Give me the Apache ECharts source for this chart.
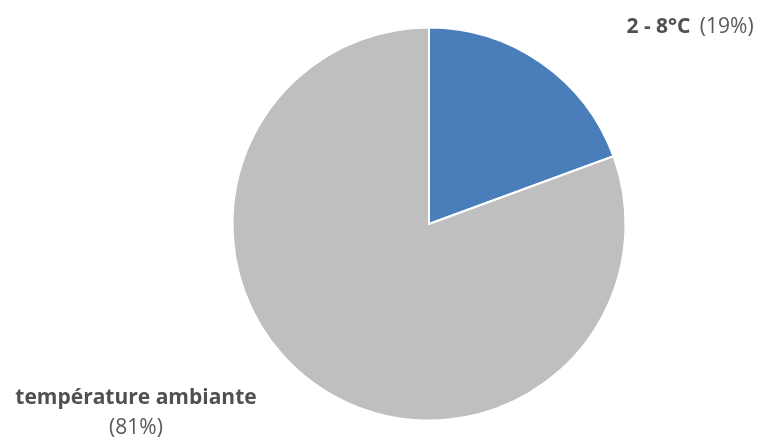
<!DOCTYPE html>
<html>
<head>
<meta charset="utf-8">
<script src="https://cdn.jsdelivr.net/npm/echarts@6/dist/echarts.min.js"></script>
<style>
  html, body { margin: 0; padding: 0; background: #fff; }
  #main { width: 772px; height: 444px; }
</style>
</head>
<body>
<div id="main"></div>
<script>
  var categories = ['2 - 8°C', 'température ambiante'];
  var values = [19.4, 80.6];
  var colors = ['#4a7ebb', '#bfbfbf'];

  var chart = echarts.init(document.getElementById('main'));

  // label anchor points (where the text sits on the page)
  var labelPos = [
    { x: 690, y: 27, align: 'center' },
    { x: 136, y: 413, align: 'center' }
  ];

  var option = {
    animation: false,
    series: [{
      type: 'pie',
      center: [429, 224],
      radius: 196.5,
      startAngle: 90,
      clockwise: true,
      itemStyle: { borderColor: '#fff', borderWidth: 2 },
      labelLine: { show: false },
      label: {
        show: true,
        position: 'outside',
        fontFamily: 'Open Sans',
        color: '#595959',
        formatter: function (p) {
          var pct = Math.round(p.percent) + '%';
          if (p.dataIndex === 0) return '{b|' + p.name + '}   {n|(' + pct + ')}';
          return '{b|' + p.name + '}\n{n|(' + pct + ')}';
        },
        rich: {
          b: { fontFamily: 'Open Sans', fontWeight: 'bold', fontSize: 21, color: '#505050', lineHeight: 30 },
          n: { fontFamily: 'Open Sans', fontSize: 21, color: '#595959', lineHeight: 30 }
        }
      },
      labelLayout: function (params) {
        var p = labelPos[params.dataIndex];
        return { x: p.x, y: p.y, align: p.align, verticalAlign: 'middle', hideOverlap: false, moveOverlap: null };
      },
      data: categories.map(function (c, i) {
        return { name: c, value: values[i], itemStyle: { color: colors[i] } };
      })
    }]
  };
  chart.setOption(option);
</script>
</body>
</html>
